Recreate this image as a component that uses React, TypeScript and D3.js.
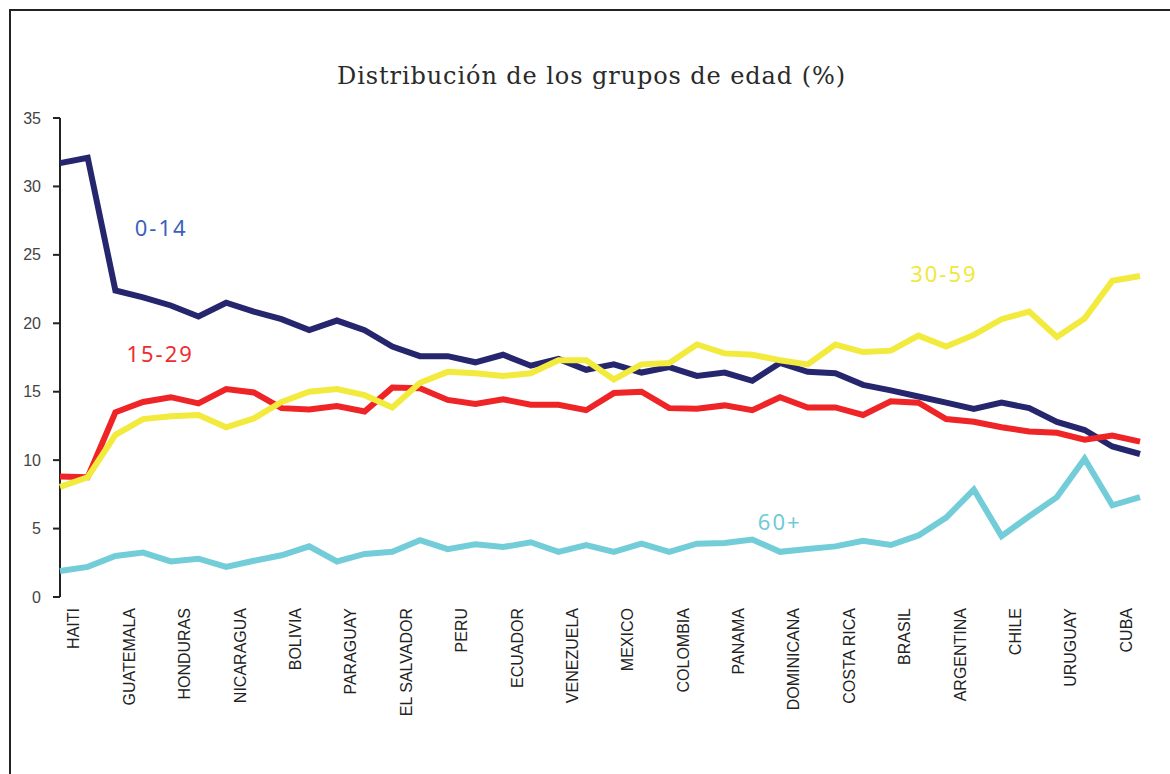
import React from "react";
import * as d3 from "d3";

const countries = ["HAITI", "GUATEMALA", "HONDURAS", "NICARAGUA", "BOLIVIA", "PARAGUAY", "EL SALVADOR", "PERU", "ECUADOR", "VENEZUELA", "MEXICO", "COLOMBIA", "PANAMA", "DOMINICANA", "COSTA RICA", "BRASIL", "ARGENTINA", "CHILE", "URUGUAY", "CUBA"];

const age0_14 = [31.7, 32.1, 22.4, 21.9, 21.3, 20.5, 21.5, 20.85, 20.3, 19.5, 20.2, 19.5, 18.3, 17.6, 17.6, 17.15, 17.7, 16.9, 17.4, 16.6, 17.0, 16.4, 16.8, 16.15, 16.4, 15.8, 17.1, 16.45, 16.35, 15.5, 15.1, 14.65, 14.2, 13.75, 14.2, 13.8, 12.8, 12.2, 11.0, 10.45];
const age15_29 = [8.8, 8.75, 13.5, 14.25, 14.6, 14.15, 15.2, 14.95, 13.8, 13.7, 13.95, 13.55, 15.3, 15.25, 14.4, 14.1, 14.45, 14.05, 14.05, 13.65, 14.9, 15.0, 13.8, 13.75, 14.0, 13.65, 14.6, 13.85, 13.85, 13.3, 14.3, 14.2, 13.0, 12.8, 12.4, 12.1, 12.0, 11.5, 11.8, 11.35];
const age30_59 = [8.05, 8.75, 11.85, 13.0, 13.2, 13.3, 12.4, 13.05, 14.25, 15.0, 15.2, 14.75, 13.85, 15.65, 16.45, 16.35, 16.15, 16.35, 17.3, 17.3, 15.9, 17.0, 17.1, 18.45, 17.8, 17.7, 17.3, 17.0, 18.45, 17.9, 18.0, 19.1, 18.3, 19.15, 20.3, 20.85, 19.0, 20.35, 23.1, 23.45];
const age60 = [1.9, 2.2, 3.0, 3.25, 2.6, 2.8, 2.2, 2.65, 3.05, 3.7, 2.6, 3.15, 3.3, 4.15, 3.5, 3.85, 3.65, 4.0, 3.3, 3.8, 3.3, 3.9, 3.3, 3.9, 3.95, 4.2, 3.3, 3.5, 3.7, 4.1, 3.8, 4.5, 5.8, 7.85, 4.45, 5.9, 7.3, 10.1, 6.7, 7.3];

const yTicks = [0, 5, 10, 15, 20, 25, 30, 35];

const seriesNames = ["0-14", "15-29", "30-59", "60+"];
// annotation anchors in data coordinates (index, value)
const labelIndex = [2.7, 2.4, 30.7, 25.2];
const labelValue = [26.4, 17.2, 23.0, 4.9];

const title = "Distribución de los grupos de edad (%)";

export default function App() {
  const x = d3.scaleLinear().domain([0, 39]).range([60, 1140]);
  const y = d3.scaleLinear().domain([0, 35]).range([597, 118]);
  const line = d3
    .line<number>()
    .x((_, i) => x(i))
    .y((d) => y(d));

  const series = [age0_14, age15_29, age30_59, age60];
  const lineColors = ["#25266e", "#ee2426", "#f2ea3d", "#73cdd8"];
  const textColors = ["#3d5fc0", "#ee2d2d", "#f0e83c", "#70cbd6"];

  return (
    <svg
      width={1170}
      height={774}
      style={{ position: "absolute", left: 0, top: 0, background: "#fff" }}
    >
      <rect x={10} y={10} width={1200} height={800} fill="#fff" stroke="#222" strokeWidth={2} />
      <text
        x={337}
        y={84}
        textLength={508}
        lengthAdjust="spacing"
        fontFamily="DejaVu Serif"
        fontSize={24}
        fill="#2a2a2a"
      >
        {title}
      </text>

      {/* y axis */}
      <line x1={60} x2={60} y1={y(35)} y2={y(0)} stroke="#222" strokeWidth={2} />
      {yTicks.map((t) => (
        <g key={t}>
          <line x1={53} x2={60} y1={y(t)} y2={y(t)} stroke="#222" strokeWidth={2} />
          <text
            x={41}
            y={y(t)}
            dy="0.35em"
            textAnchor="end"
            fontFamily="Liberation Sans, Arial, sans-serif"
            fontSize={16}
            fill="#444"
          >
            {t}
          </text>
        </g>
      ))}

      {/* x labels */}
      {countries.map((c, k) => {
        const cx = x(2 * k + 0.5);
        return (
          <text
            key={c}
            transform={`translate(${cx},608) rotate(-90)`}
            dy="0.35em"
            textAnchor="end"
            fontFamily="Liberation Sans, Arial, sans-serif"
            fontSize={16}
            fill="#222"
          >
            {c}
          </text>
        );
      })}

      {series.map((s, i) => (
        <path
          key={seriesNames[i]}
          d={line(s) || ""}
          fill="none"
          stroke={lineColors[i]}
          strokeWidth={6}
          strokeLinejoin="miter"
        />
      ))}

      {seriesNames.map((n, i) => (
        <text
          key={n}
          x={x(labelIndex[i])}
          y={y(labelValue[i])}
          fontFamily="Noto Sans"
          fontSize={22}
          letterSpacing={2}
          fill={textColors[i]}
        >
          {n}
        </text>
      ))}
    </svg>
  );
}
